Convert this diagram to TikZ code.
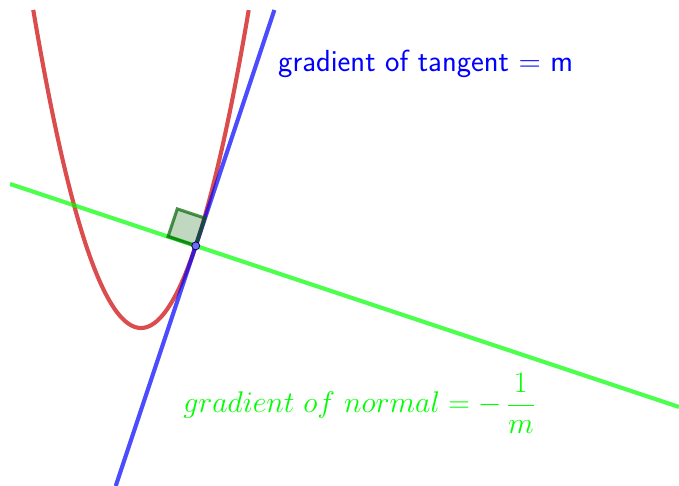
\RequirePackage{fix-cm}
\documentclass[tikz,border=0pt]{standalone}
\usepackage{amsmath}
\usepackage{xcolor}
\definecolor{ggred}{RGB}{204,0,0}
\definecolor{ggblue}{RGB}{0,0,255}
\definecolor{gggreen}{RGB}{0,255,0}
\definecolor{ggdarkgreen}{RGB}{0,100,0}
\definecolor{ggpoint}{RGB}{110,110,245}
\usepackage{tikz}
\usetikzlibrary{calc}

\begin{document}
\begin{tikzpicture}[
  graphline/.style={line width=3.2pt, draw opacity=0.7},
  textlabel/.style={inner sep=0pt, anchor=base west}]
  % Canvas and view window
  \useasboundingbox (-3.863,-4.329) rectangle (14.740,8.986);
  \clip (-3.589,-4.329) rectangle (14.740,8.712);

  % Point of contact and line ends
  \coordinate (P) at (1.5,2.25);
  \coordinate (t1) at (-0.693,-4.329);
  \coordinate (t2) at (3.654,8.712);
  \coordinate (n1) at (-3.589,3.946);
  \coordinate (n2) at (14.740,-2.163);

  % Parabola y = x^2
  \draw[graphline, ggred, domain=-2.952:2.952, samples=120] plot (\x,{\x*\x});

  % Tangent -- gradient 3
  \draw[graphline, ggblue] (t1) -- (t2);

  % Normal -- gradient -1/3
  \draw[graphline, gggreen] (n1) -- (n2);

  % Right angle marker
  \draw[line width=2.4pt, draw=ggdarkgreen, draw opacity=0.7, fill=ggdarkgreen, fill opacity=0.25]
       (P) -- ++(-0.759,0.253) -- ++(0.253,0.759) -- ++(0.759,-0.253) -- cycle;

  % Point
  \filldraw[fill=ggpoint, draw=ggblue!30!black, line width=0.6pt] (P) circle (0.11);

  % Labels
  \node[textlabel, ggblue, font=\fontsize{23.8}{28}\selectfont\sffamily] (tangentlabel) at (3.753,7.014)
       {gradient of tangent = m};
  \node[textlabel, gggreen, font=\fontsize{23.3}{28}\selectfont] (normallabel) at (1.151,-2.329)
       {$gradient\ of\ normal = -\,\dfrac{1}{m}$};
\end{tikzpicture}
\end{document}
